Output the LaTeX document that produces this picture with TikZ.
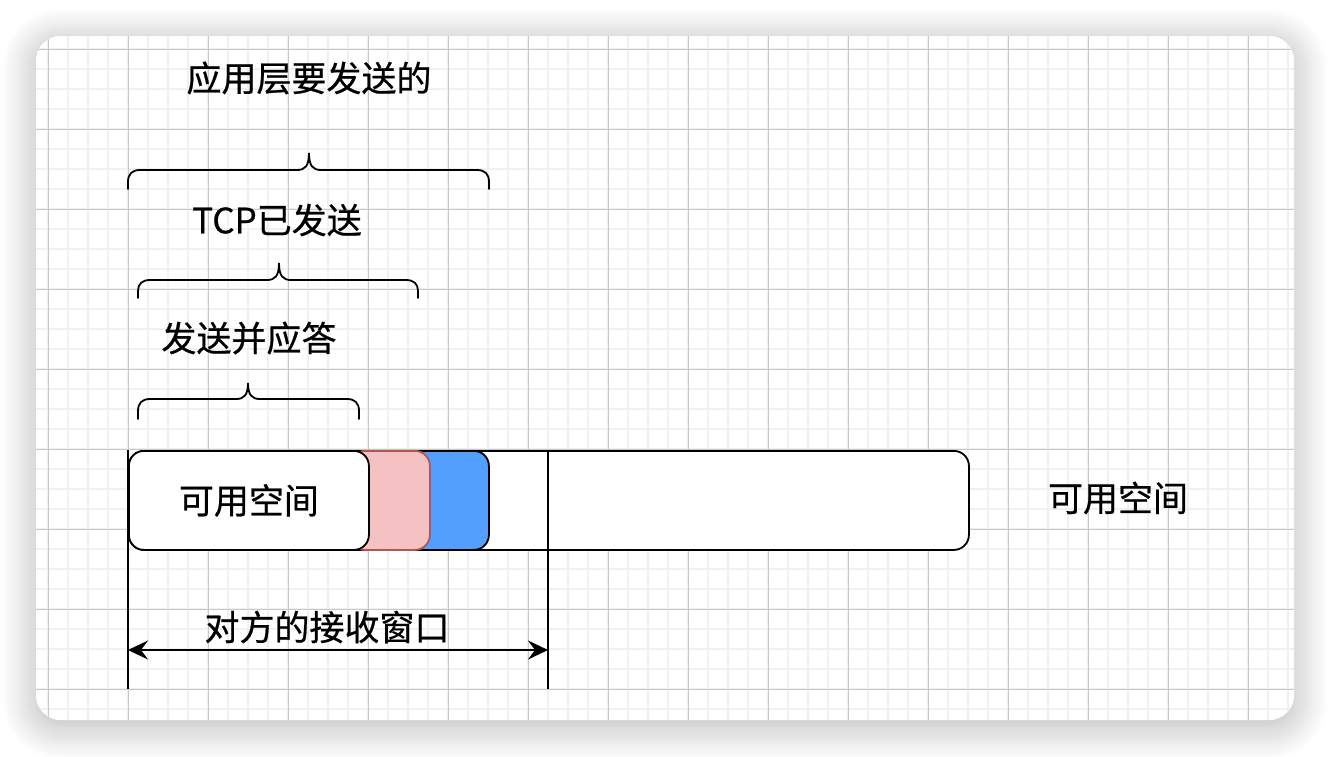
\documentclass[tikz,border=0pt]{standalone}
\usepackage{fontspec}
\setmainfont[FakeBold=0.6]{Noto Sans CJK SC}
\usetikzlibrary{arrows.meta,shadows.blur}
\definecolor{minorgrid}{RGB}{240,240,240}
\definecolor{majorgrid}{RGB}{200,200,200}
\definecolor{redfill}{RGB}{244,194,194}
\definecolor{redline}{RGB}{184,84,80}
\definecolor{bluefill}{RGB}{83,159,254}
\tikzset{
  lbl/.style={font=\fontsize{35}{40}\selectfont, inner sep=0pt},
  seg/.style={draw=black, line width=1.8pt, rounded corners=15pt, inner sep=0pt, minimum height=99pt, anchor=north west},
  brace/.style={draw=black, line width=1.8pt, line cap=round},
  vline/.style={draw=black, line width=1.8pt},
  dimarrow/.style={draw=black, line width=1.8pt, {Stealth[length=20pt,width=19pt,inset=7pt]}-{Stealth[length=20pt,width=19pt,inset=7pt]}}
}
\begin{document}
\begin{tikzpicture}[x=1pt,y=-1pt]
\useasboundingbox (0,0) rectangle (1330,756);
% card with shadow
\path[fill=white, rounded corners=25pt, blur shadow={shadow xshift=0pt, shadow yshift=-6pt, shadow blur radius=34pt, shadow blur steps=20, shadow opacity=30}] (36,36) rectangle (1294,720);
\begin{scope}
\clip[rounded corners=25pt] (36,36) rectangle (1294,720);
\fill[white] (36,36) rectangle (1294,720);
\foreach \x in {48,68,...,1288} \draw[minorgrid, line width=1.5pt] (\x,36) -- (\x,720);
\foreach \y in {49,69,...,709} \draw[minorgrid, line width=1.5pt] (36,\y) -- (1294,\y);
\foreach \x in {48,128,...,1288} \draw[majorgrid, line width=1pt] (\x,36) -- (\x,720);
\foreach \y in {49,129,...,689} \draw[majorgrid, line width=1pt] (36,\y) -- (1294,\y);
\end{scope}
% labels
\node[lbl] (app) at (309,78) {应用层要发送的};
\node[lbl] (tcp) at (277,220) {TCP已发送};
\node[lbl] (ack) at (249,338) {发送并应答};
\node[lbl] (win) at (327,627) {对方的接收窗口};
\node[lbl] (free2) at (1118,498) {可用空间};
% braces
\draw[brace] (128,189) -- (128,182) .. controls (128,174) and (132,170) .. (140,170) -- (297,170) .. controls (305,170) and (309,166) .. (309,153) .. controls (309,166) and (313,170) .. (321,170) -- (477,170) .. controls (485,170) and (489,174) .. (489,182) -- (489,189);
\draw[brace] (138,298) -- (138,291) .. controls (138,284) and (142,280) .. (150,280) -- (267,280) .. controls (275,280) and (279,276) .. (279,263) .. controls (279,276) and (283,280) .. (291,280) -- (406,280) .. controls (414,280) and (418,284) .. (418,291) -- (418,298);
\draw[brace] (138,419) -- (138,411) .. controls (138,403) and (142,399) .. (150,399) -- (236,399) .. controls (244,399) and (248,395) .. (248,383) .. controls (248,395) and (252,399) .. (260,399) -- (347,399) .. controls (355,399) and (359,403) .. (359,411) -- (359,419);
% bar segments
\node[seg, fill=white, minimum width=840pt] (bar) at (128,450) {};
\node[seg, fill=bluefill, minimum width=80pt] (blue) at (408,450) {};
\node[seg, fill=redfill, draw=redline, minimum width=80pt] (red) at (349,450) {};
\node[seg, fill=white, minimum width=240pt, lbl] (free1) at (128,450) {可用空间};
% boundary lines
\coordinate (l0) at (128,450);
\coordinate (l1) at (128,689);
\coordinate (r0) at (548,450);
\coordinate (r1) at (548,689);
\draw[vline] (l0) -- (l1);
\draw[vline] (r0) -- (r1);
% window arrow
\coordinate (a0) at (128,650);
\coordinate (a1) at (548,650);
\draw[dimarrow] (a0) -- (a1);
\end{tikzpicture}
\end{document}
